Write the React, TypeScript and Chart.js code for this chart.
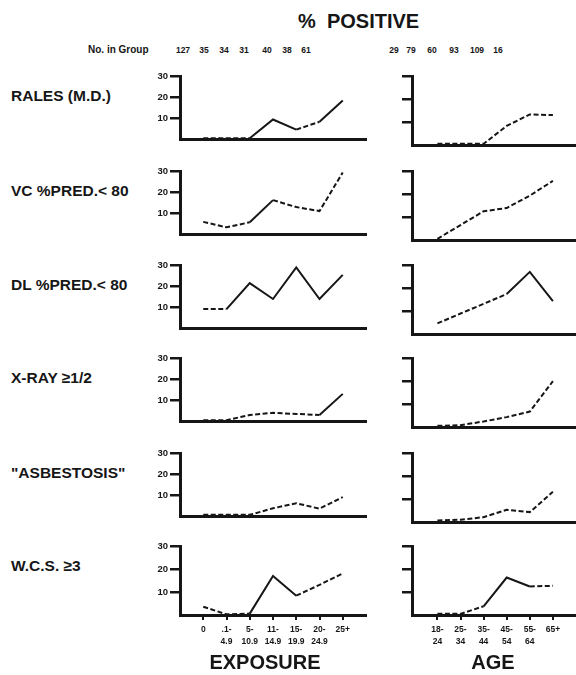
import React, { useEffect, useRef } from 'react';
import { Chart, registerables } from 'chart.js';

Chart.register(...registerables);

// ---------- data ----------
const EXPOSURE_LABELS: string[][] = [['0'], ['.1-', '4.9'], ['5-', '10.9'], ['11-', '14.9'], ['15-', '19.9'], ['20-', '24.9'], ['25+']];
const AGE_LABELS: string[][] = [['18-', '24'], ['25-', '34'], ['35-', '44'], ['45-', '54'], ['55-', '64'], ['65+']];
const EXPOSURE_COUNTS = ['127', '35', '34', '31', '40', '38', '61'];
const AGE_COUNTS = ['29', '79', '60', '93', '109', '16'];
const ROW_LABELS = ['RALES (M.D.)', 'VC %PRED.< 80', 'DL %PRED.< 80', 'X-RAY \u22651/2', '"ASBESTOSIS"', 'W.C.S. \u22653'];
const Y_TICKS = [10, 20, 30];

const ralesExposure = [0.5, 0.5, 0.5, 9.4, 4.6, 8.3, 18.4];
const ralesAge = [0.5, 0.5, 0.5, 8.3, 13.3, 13];
const vcExposure = [5.9, 3.3, 5.7, 16.2, 12.9, 11, 29.3];
const vcAge = [0.5, 6.5, 12.5, 13.9, 19.3, 25.7];
const dlExposure = [9.1, 9.1, 21.4, 13.9, 28.9, 13.9, 25.3];
const dlAge = [4.6, 8.9, 13.1, 17.4, 27, 14.3];
const xrayExposure = [0.5, 0.5, 3, 4, 3.5, 3, 13];
const xrayAge = [0.5, 0.8, 2.4, 4.3, 6.7, 19.9];
const asbExposure = [0.7, 0.7, 0.7, 3.8, 6.2, 3.6, 9.1];
const asbAge = [0.7, 1, 2.1, 5.3, 4.3, 13.1];
const wcsExposure = [3.6, 0.3, 0.6, 17, 8.4, 13.1, 18.1];
const wcsAge = [0.5, 0.5, 3.8, 16.3, 12.4, 12.7];

// segment line styles: d = dashed, s = solid
const ralesExposureSeg = 'ddssds';
const ralesAgeSeg = 'ddddd';
const vcExposureSeg = 'ddsddd';
const vcAgeSeg = 'ddddd';
const dlExposureSeg = 'dsssss';
const dlAgeSeg = 'dddss';
const xrayExposureSeg = 'ddddds';
const xrayAgeSeg = 'ddddd';
const asbExposureSeg = 'dddddd';
const asbAgeSeg = 'ddddd';
const wcsExposureSeg = 'ddssdd';
const wcsAgeSeg = 'ddssd';

const ROWS = [
  { exp: ralesExposure, expSeg: ralesExposureSeg, age: ralesAge, ageSeg: ralesAgeSeg },
  { exp: vcExposure, expSeg: vcExposureSeg, age: vcAge, ageSeg: vcAgeSeg },
  { exp: dlExposure, expSeg: dlExposureSeg, age: dlAge, ageSeg: dlAgeSeg },
  { exp: xrayExposure, expSeg: xrayExposureSeg, age: xrayAge, ageSeg: xrayAgeSeg },
  { exp: asbExposure, expSeg: asbExposureSeg, age: asbAge, ageSeg: asbAgeSeg },
  { exp: wcsExposure, expSeg: wcsExposureSeg, age: wcsAge, ageSeg: wcsAgeSeg },
];

// ---------- layout ----------
const FONT = "'Liberation Sans', Arial, Helvetica, sans-serif";
const INK = '#161616';
const ROW_BOTTOMS = [145, 240, 334, 427, 522, 615];
const PANEL_H = 69;

type PanelProps = { values: number[]; segs: string; side: 'L' | 'R'; row: number; last: boolean };

function Panel({ values, segs, side, row, last }: PanelProps) {
  const ref = useRef<HTMLCanvasElement | null>(null);
  const isLeft = side === 'L';
  const labels = isLeft ? EXPOSURE_LABELS : AGE_LABELS;
  const areaLeft = isLeft ? 180 : 412;
  const areaRight = isLeft ? 366 : 576;
  const yW = isLeft ? 40 : 12;
  const padTop = 8;
  const padRight = isLeft ? 2 : 0;
  const xH = last ? 40 : 2;
  const canvasLeft = areaLeft - yW;
  const canvasW = yW + (areaRight - areaLeft) + padRight;
  const canvasTop = ROW_BOTTOMS[row] - PANEL_H - padTop;
  const canvasH = padTop + PANEL_H + xH;

  useEffect(() => {
    if (!ref.current) return;
    const chart = new Chart(ref.current, {
      type: 'line',
      data: {
        datasets: [
          {
            data: values.map((v, i) => ({ x: i, y: v })),
            borderColor: INK,
            borderWidth: 2,
            pointRadius: 0,
            tension: 0,
            fill: false,
            segment: {
              borderDash: (ctx: any) => (segs[ctx.p0DataIndex] === 'd' ? [5, 2.5] : undefined),
            },
          } as any,
        ],
      },
      options: {
        animation: false,
        responsive: false,
        maintainAspectRatio: false,
        layout: { padding: { top: padTop, right: padRight, left: 0, bottom: 0 } },
        plugins: { legend: { display: false }, tooltip: { enabled: false }, title: { display: false } },
        scales: {
          x: {
            type: 'linear',
            min: isLeft ? -1 : -1.1,
            max: isLeft ? 7 : 6,
            afterBuildTicks: (s: any) => {
              s.ticks = labels.map((_, i) => ({ value: i }));
            },
            afterFit: (s: any) => {
              s.height = xH;
            },
            ticks: {
              display: last,
              autoSkip: false,
              maxRotation: 0,
              minRotation: 0,
              padding: 3,
              color: INK,
              font: { family: FONT, size: 8.5, weight: 'bold', lineHeight: 1.5 },
              callback: (v: any) => labels[Math.round(Number(v))] ?? '',
            },
            grid: { display: last, drawOnChartArea: false, drawTicks: true, tickLength: 5, lineWidth: 2, color: INK },
            border: { display: true, width: 3, color: INK },
          },
          y: {
            type: 'linear',
            min: 0,
            max: 30,
            afterBuildTicks: (s: any) => {
              s.ticks = Y_TICKS.map((v) => ({ value: v }));
            },
            afterFit: (s: any) => {
              s.width = yW;
            },
            ticks: {
              display: isLeft,
              padding: 2,
              color: INK,
              font: { family: FONT, size: 9.5, weight: 'bold' },
            },
            grid: { display: true, drawOnChartArea: false, drawTicks: true, tickLength: 10, lineWidth: 2.5, color: INK },
            border: { display: true, width: 3, color: INK },
          },
        },
      } as any,
    });
    return () => chart.destroy();
  }, []);

  return (
    <canvas
      ref={ref}
      width={canvasW}
      height={canvasH}
      style={{ position: 'absolute', left: canvasLeft, top: canvasTop, width: canvasW, height: canvasH }}
    />
  );
}

const EXP_COUNT_X = [183, 204, 224, 244, 267, 287, 306];
const AGE_COUNT_X = [394, 411, 432, 454, 477, 498];

function Txt({ x, y, size, children, anchor = 'center', pre = false }: any) {
  return (
    <div
      style={{
        position: 'absolute',
        left: x,
        top: y,
        transform: anchor === 'center' ? 'translate(-50%, -50%)' : 'translate(0, -50%)',
        fontFamily: FONT,
        fontWeight: 'bold',
        fontSize: size,
        color: INK,
        whiteSpace: pre ? 'pre' : 'nowrap',
        lineHeight: 1,
      }}
    >
      {children}
    </div>
  );
}

export default function App() {
  return (
    <div style={{ position: 'absolute', left: 0, top: 0, width: 576, height: 675, background: '#ffffff', overflow: 'hidden' }}>
      <Txt x={298} y={21} size={20} anchor="left" pre>
        {'%  POSITIVE'}
      </Txt>
      <Txt x={88} y={50} size={10} anchor="left">
        No. in Group
      </Txt>
      {EXPOSURE_COUNTS.map((c, i) => (
        <Txt key={'e' + i} x={EXP_COUNT_X[i]} y={50} size={8.5}>
          {c}
        </Txt>
      ))}
      {AGE_COUNTS.map((c, i) => (
        <Txt key={'a' + i} x={AGE_COUNT_X[i]} y={50} size={8.5}>
          {c}
        </Txt>
      ))}
      {ROW_LABELS.map((l, i) => (
        <Txt key={'r' + i} x={11} y={ROW_BOTTOMS[i] - 49} size={15.5} anchor="left">
          {l}
        </Txt>
      ))}
      {ROWS.map((r, i) => (
        <React.Fragment key={'p' + i}>
          <Panel values={r.exp} segs={r.expSeg} side="L" row={i} last={i === ROWS.length - 1} />
          <Panel values={r.age} segs={r.ageSeg} side="R" row={i} last={i === ROWS.length - 1} />
        </React.Fragment>
      ))}
      <Txt x={265} y={662} size={20}>
        EXPOSURE
      </Txt>
      <Txt x={493} y={662} size={20}>
        AGE
      </Txt>
    </div>
  );
}
